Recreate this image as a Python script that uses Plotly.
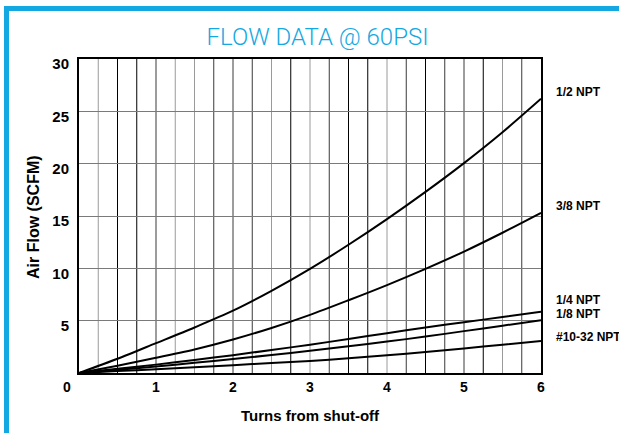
import plotly.graph_objects as go

# ---------------- data ----------------
turns = [0, 0.5, 1, 1.5, 2, 2.5, 3, 3.5, 4, 4.5, 5, 5.5, 6]
flow_half_npt = [0, 1.36, 2.85, 4.35, 5.95, 7.85, 9.95, 12.25, 14.7, 17.3, 20.05, 23.0, 26.2]
flow_3_8_npt = [0, 0.7, 1.45, 2.25, 3.2, 4.3, 5.55, 6.95, 8.4, 9.95, 11.6, 13.4, 15.3]
flow_1_4_npt = [0, 0.4, 0.8, 1.25, 1.7, 2.2, 2.7, 3.25, 3.8, 4.35, 4.85, 5.35, 5.85]
flow_1_8_npt = [0, 0.3, 0.62, 0.97, 1.33, 1.72, 2.12, 2.55, 3.0, 3.48, 4.0, 4.52, 5.05]
flow_10_32_npt = [0, 0.18, 0.36, 0.55, 0.75, 0.95, 1.15, 1.4, 1.7, 2.0, 2.35, 2.7, 3.05]

series_names = ["1/2 NPT", "3/8 NPT", "1/4 NPT", "1/8 NPT", "#10-32 NPT"]
series_values = [flow_half_npt, flow_3_8_npt, flow_1_4_npt, flow_1_8_npt, flow_10_32_npt]

x_tick_vals = [1, 2, 3, 4, 5, 6]
x_tick_text = ["1", "2", "3", "4", "5", "6"]
y_tick_vals = [5, 10, 15, 20, 25, 30]
y_tick_text = ["5", "10", "15", "20", "25", "30"]
minor_turns = [0.25, 0.5, 0.75, 1, 1.25, 1.5, 1.75, 2, 2.25, 2.5, 2.75, 3,
               3.25, 3.5, 3.75, 4, 4.25, 4.5, 4.75, 5, 5.25, 5.5, 5.75]

title_text = "FLOW DATA @ 60PSI"
x_title = "Turns from shut-off"
y_title = "Air Flow (SCFM)"

# ---------------- style ----------------
FONT = "Liberation Sans, Arial, Helvetica, sans-serif"
TITLE_FONT = "Roboto, Liberation Sans, Arial, sans-serif"
CYAN = "#14a8e2"
BLK, DRK, GRY = "#000000", "#3a3a3a", "#9a9a9a"
vgrid_colors = [GRY, BLK, BLK, DRK, GRY, GRY, DRK, DRK, DRK, GRY, BLK, GRY,
                DRK, BLK, BLK, GRY, DRK, BLK, DRK, DRK, BLK, GRY, DRK]
label_offsets = [0.6, 0.7, 1.15, 0.55, 0.4]

fig = go.Figure()
for name, vals in zip(series_names, series_values):
    fig.add_trace(go.Scatter(x=turns, y=vals, mode="lines", name=name,
                             line=dict(color="black", width=2, shape="spline", smoothing=0.8),
                             showlegend=False, hoverinfo="skip"))

shapes = []
for t, c in zip(minor_turns, vgrid_colors):
    shapes.append(dict(type="line", xref="x", yref="paper", x0=t, x1=t, y0=0, y1=1,
                       line=dict(color=c, width=1), layer="below"))
# cyan frame (top and left bands)
shapes.append(dict(type="rect", xref="paper", yref="paper", xsizemode="pixel", ysizemode="pixel",
                   xanchor=0, yanchor=1, x0=-75, x1=545, y0=48, y1=53,
                   fillcolor=CYAN, line=dict(width=0)))
shapes.append(dict(type="rect", xref="paper", yref="paper", xsizemode="pixel", ysizemode="pixel",
                   xanchor=0, yanchor=1, x0=-75, x1=-70, y0=-380, y1=53,
                   fillcolor=CYAN, line=dict(width=0)))

annotations = []
for name, vals, off in zip(series_names, series_values, label_offsets):
    annotations.append(dict(text=name, xref="paper", yref="y", x=1, y=vals[-1] + off,
                            xanchor="left", yanchor="middle", xshift=13, showarrow=False,
                            font=dict(family=FONT, size=12, color="black", weight="bold")))
annotations.append(dict(text="0", xref="paper", yref="paper", x=0, y=0, xshift=-12, yshift=-14,
                        xanchor="center", yanchor="middle", showarrow=False,
                        font=dict(family=FONT, size=14, color="black", weight="bold")))
annotations.append(dict(text=x_title, xref="paper", yref="paper", x=0.5, y=0, yshift=-42,
                        xanchor="center", yanchor="middle", showarrow=False,
                        font=dict(family=FONT, size=15, color="black", weight="bold")))
annotations.append(dict(text=y_title, xref="paper", yref="paper", x=0, y=0.497, xshift=-45,
                        xanchor="center", yanchor="middle", textangle=-90, showarrow=False,
                        font=dict(family=FONT, size=16, color="black", weight="bold")))

fig.update_layout(
    width=619, height=433,
    margin=dict(l=79, r=78, t=59, b=60),
    paper_bgcolor="white", plot_bgcolor="white",
    title=dict(text=title_text, x=0.513, xanchor="center", y=0.915, yanchor="middle",
               font=dict(family=TITLE_FONT, size=24, color=CYAN, weight=300)),
    xaxis=dict(range=[0, 6], tickvals=x_tick_vals, ticktext=x_tick_text, showgrid=False,
               zeroline=False, showline=True, mirror=True, linecolor="black", linewidth=2,
               ticks="", ticklabelstandoff=0,
               tickfont=dict(family=FONT, size=14, color="black", weight="bold")),
    yaxis=dict(range=[0, 30], tickvals=y_tick_vals, ticktext=y_tick_text, showgrid=True,
               gridcolor="#7a7a7a", gridwidth=1, zeroline=False, showline=True, mirror=True,
               linecolor="black", linewidth=2, ticks="", ticklabelshift=5, ticklabelstandoff=5,
               tickfont=dict(family=FONT, size=15, color="black", weight="bold")),
    shapes=shapes,
    annotations=annotations,
)

fig.write_html("out.html", config={"displayModeBar": False},
               post_script="document.body.style.margin='0';document.body.style.overflow='hidden';")
